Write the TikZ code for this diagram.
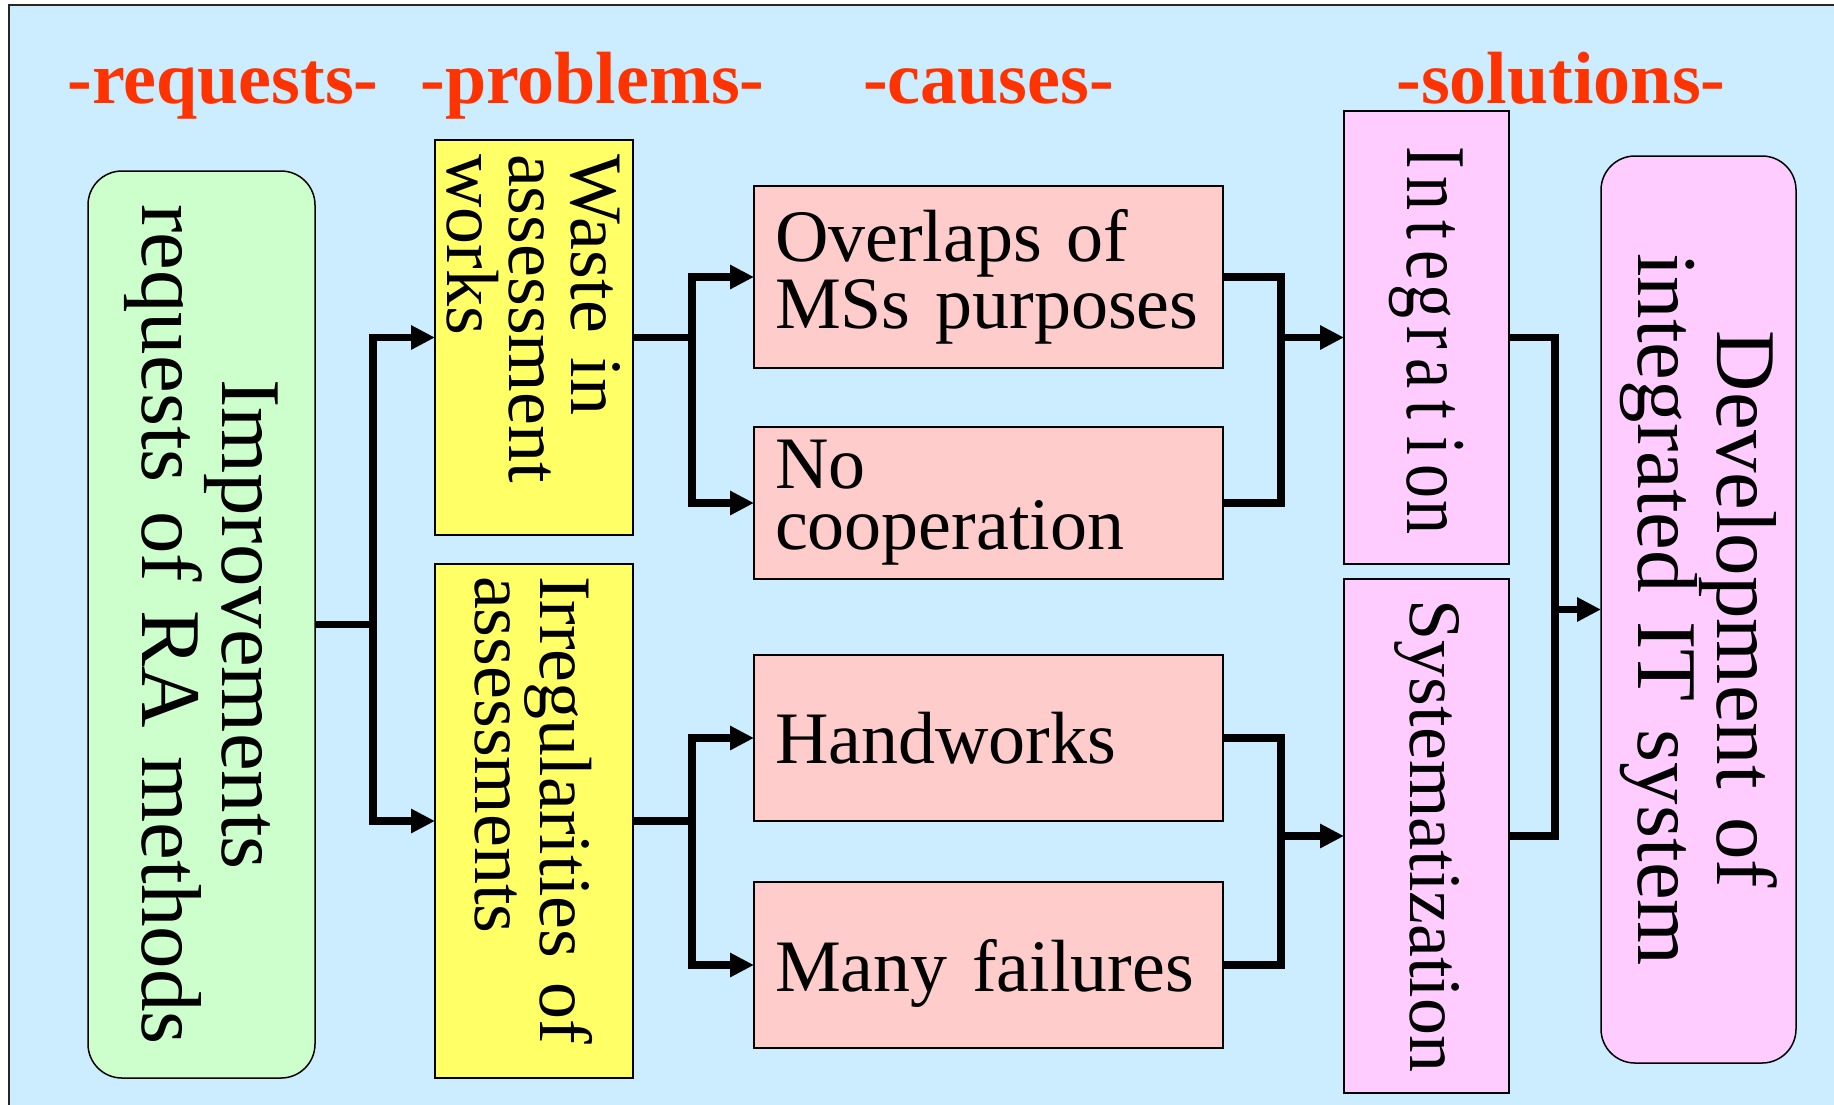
\documentclass[tikz,border=0pt]{standalone}
\usepackage{fontspec}
\setmainfont{Liberation Serif}
\usetikzlibrary{arrows.meta}
\definecolor{bgblue}{HTML}{CCECFF}
\definecolor{reqgreen}{HTML}{CCFFCC}
\definecolor{probyellow}{HTML}{FFFF66}
\definecolor{causepink}{HTML}{FFCCCC}
\definecolor{solpink}{HTML}{FFCCFF}
\definecolor{hdrred}{HTML}{FF3300}
\newcommand\intch[1]{\makebox[18pt]{\scalebox{0.8}[1]{#1}}}
\begin{document}
\begin{tikzpicture}[x=0.5pt,y=-0.5pt,
  box/.style={draw=black, line width=0.75pt, outer sep=0pt, inner sep=0pt},
  causebox/.style={box, fill=causepink, minimum width=234.5pt, text width=213.5pt, inner xsep=10.5pt, align=left, font={\fontsize{37pt}{30.5pt}\selectfont}},
  probbox/.style={box, fill=probyellow, rotate=-90, minimum height=99pt, align=left, font={\fontsize{37pt}{31pt}\selectfont}},
  bigbox/.style={box, rotate=-90, rounded corners=17pt, minimum width=453.5pt, text width=453.5pt, align=center, font={\fontsize{42.5pt}{36pt}\selectfont}},
  solbox/.style={box, fill=solpink, rotate=-90, minimum height=82.5pt},
  conn/.style={line width=3.75pt},
  arr/.style={conn, -{Triangle[length=12pt,width=11.5pt]}},
  hdr/.style={text=hdrred, font={\fontsize{37pt}{40pt}\selectfont\bfseries}, anchor=base, inner sep=0pt}]
\useasboundingbox (0,0) rectangle (1834,1104);
\fill[bgblue] (9,5) rectangle (1840,1110);
\draw[line width=1.25pt, black!85] (9,1110) -- (9,5) -- (1840,5);

% headers
\node[hdr] (hreq) at (223,103) {-requests-};
\node[hdr] (hprob) at (592.5,103) {-problems-};
\node[hdr] (hcause) at (988.5,103) {-causes-};
\node[hdr] (hsol) at (1561,103) {-solutions-};

% requests
\node[bigbox, fill=reqgreen, minimum height=113.5pt] (req) at (201.5,624.5) {Improvements\\requests of RA methods};

% problems
\node[probbox, minimum width=197.5pt, text width=183.5pt, inner xsep=7pt] (waste) at (534,337.5) {Waste in\\assessment\\works};
\node[probbox, minimum width=257pt, text width=245pt, inner xsep=6pt, font={\fontsize{37pt}{32.5pt}\selectfont}] (irreg) at (534,821) {Irregularities of\\assessments};

% causes
\node[causebox, minimum height=91pt] (over) at (988.5,277) {Overlaps of\\MSs purposes};
\node[causebox, minimum height=76pt] (nocoop) at (988.5,503) {No\\cooperation};
\node[causebox, minimum height=83pt] (hand) at (988.5,738) {Handworks};
\node[causebox, minimum height=83pt, text depth=0pt] (many) at (988.5,965) {Many failures};

% solutions
\node[solbox, minimum width=226.5pt, font={\fontsize{42.5pt}{44pt}\selectfont}] (integ) at (1426.5,337.5) {\intch{I}\intch{n}\intch{t}\intch{e}\intch{g}\intch{r}\intch{a}\intch{t}\intch{i}\intch{o}\intch{n}};
\node[solbox, minimum width=257pt, font={\fontsize{37pt}{40pt}\selectfont}] (sys) at (1426.5,836) {Systematization};

% goal
\node[bigbox, fill=solpink, minimum height=97.5pt] (dev) at (1698.5,609.5) {Development of\\integrated IT system};

% junctions
\coordinate (ja) at (373,624.5);
\coordinate (jb) at (692,337.5);
\coordinate (jc) at (1281,337.5);
\coordinate (jd) at (692,821);
\coordinate (je) at (1281,836);
\coordinate (jf) at (1555,609.5);

% connectors (rotated nodes: south = left side, north = right side)
\draw[conn] (req.north) -- (ja);
\draw[arr] (ja) |- (waste.south);
\draw[arr] (ja) |- (irreg.south);

\draw[conn] (waste.north) -- (jb);
\draw[arr] (jb) |- (over.west);
\draw[arr] (jb) |- (nocoop.west);

\draw[conn] (irreg.north) -- (jd);
\draw[arr] (jd) |- (hand.west);
\draw[arr] (jd) |- (many.west);

\draw[conn] (over.east) -| (jc) |- (nocoop.east);
\draw[arr] (jc) -- (integ.south);

\draw[conn] (hand.east) -| (je) |- (many.east);
\draw[arr] (je) -- (sys.south);

\draw[conn] (integ.north) -| (jf) |- (sys.north);
\draw[arr] (jf) -- (dev.south);
\end{tikzpicture}
\end{document}
